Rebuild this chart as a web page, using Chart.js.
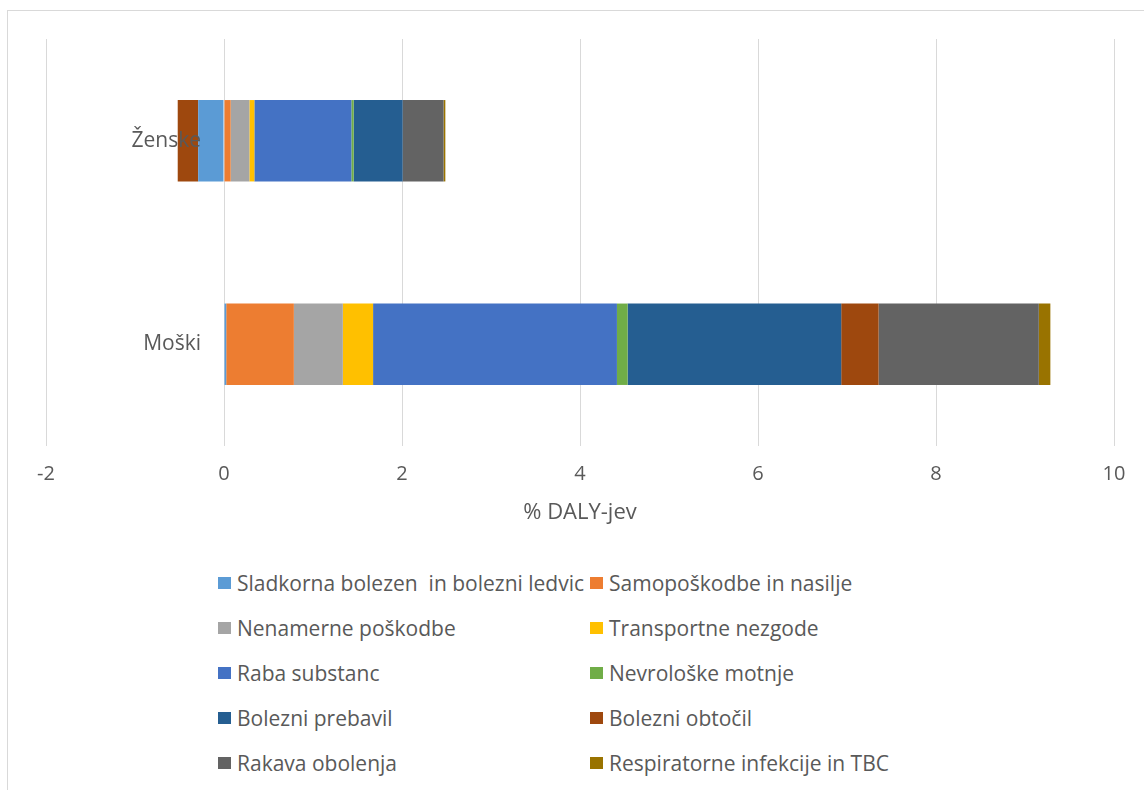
<!DOCTYPE html>
<html>
<head>
<meta charset="utf-8">
<script src="https://cdn.jsdelivr.net/npm/chart.js@4"></script>
<style>
  html, body { margin: 0; padding: 0; background: #fff; }
  body { width: 1144px; height: 790px; position: relative; overflow: hidden; font-family: "Open Sans", sans-serif; }
  #frame { position: absolute; left: 7px; top: 10px; width: 1300px; height: 1000px; border: 1px solid #d9d9d9; box-sizing: border-box; }
  #wrap { position: absolute; left: 0; top: 0; width: 1144px; height: 560px; }
  #legend { position: absolute; left: 218px; top: 560px; display: grid; grid-template-columns: 372px 372px; grid-auto-rows: 45px; }
  .item { display: flex; align-items: center; color: #595959; font-size: 21px; white-space: pre; }
  .box { width: 13px; height: 12px; margin-right: 6px; flex: none; }
</style>
</head>
<body>
<div id="frame"></div>
<div id="wrap"><canvas id="chart"></canvas></div>
<div id="legend"></div>
<script>
// kategorije (od zgoraj navzdol)
const categories = ['Ženske', 'Moški'];

// serije
const seriesNames = [
    'Sladkorna bolezen  in bolezni ledvic',
    'Samopoškodbe in nasilje',
    'Nenamerne poškodbe',
    'Transportne nezgode',
    'Raba substanc',
    'Nevrološke motnje',
    'Bolezni prebavil',
    'Bolezni obtočil',
    'Rakava obolenja',
    'Respiratorne infekcije in TBC'
];

// vrednosti (% DALY-jev)
const zenske = [-0.29, 0.075, 0.21, 0.056, 1.09, 0.026, 0.55, -0.23, 0.46, 0.02];
const moski = [0.025, 0.76, 0.55, 0.34, 2.74, 0.12, 2.40, 0.42, 1.80, 0.13];

const colors = ['#5B9BD5', '#ED7D31', '#A5A5A5', '#FFC000', '#4472C4', '#70AD47', '#255E91', '#9E480E', '#636363', '#997300'];

const xTicks = [-2, 0, 2, 4, 6, 8, 10];

const textColor = '#595959';
const gridColor = '#d9d9d9';

// oznake kategorij ob osi x = 0 (kot v Excelu)
const categoryLabels = {
    id: 'categoryLabels',
    afterDatasetsDraw(chart) {
        const { ctx, scales } = chart;
        const x0 = scales.x.getPixelForValue(0);
        ctx.save();
        ctx.font = '21px "Open Sans"';
        ctx.fillStyle = textColor;
        ctx.textAlign = 'right';
        ctx.textBaseline = 'middle';
        categories.forEach((c, i) => {
            ctx.fillText(c, x0 - 23, scales.y.getPixelForValue(i));
        });
        ctx.restore();
    }
};

const datasets = seriesNames.map((name, i) => ({
    label: name,
    data: [zenske[i], moski[i]],
    backgroundColor: colors[i],
    borderWidth: 0,
    categoryPercentage: 1,
    barPercentage: 0.4
}));

const chart = new Chart(document.getElementById('chart'), {
    type: 'bar',
    data: { labels: categories, datasets },
    options: {
        indexAxis: 'y',
        responsive: true,
        maintainAspectRatio: false,
        animation: false,
        layout: { padding: { left: 46, right: 30, top: 39, bottom: 36 } },
        scales: {
            x: {
                stacked: true,
                min: -2,
                max: 10,
                afterBuildTicks: axis => { axis.ticks = xTicks.map(v => ({ value: v })); },
                grid: { color: gridColor, drawTicks: false },
                border: { display: false },
                ticks: { color: textColor, font: { family: 'Open Sans', size: 20, lineHeight: 1 }, padding: 18 },
                title: { display: true, text: '% DALY-jev', color: textColor, font: { family: 'Open Sans', size: 22, lineHeight: 1 }, padding: { top: 0, bottom: 0 } }
            },
            y: {
                stacked: true,
                display: false
            }
        },
        plugins: {
            legend: { display: false },
            tooltip: { enabled: false }
        }
    },
    plugins: [categoryLabels]
});

// legenda v dveh stolpcih
const legend = document.getElementById('legend');
chart.data.datasets.forEach(ds => {
    const item = document.createElement('div');
    item.className = 'item';
    item.innerHTML = `<span class="box" style="background:${ds.backgroundColor}"></span><span>${ds.label}</span>`;
    legend.appendChild(item);
});
</script>
</body>
</html>
